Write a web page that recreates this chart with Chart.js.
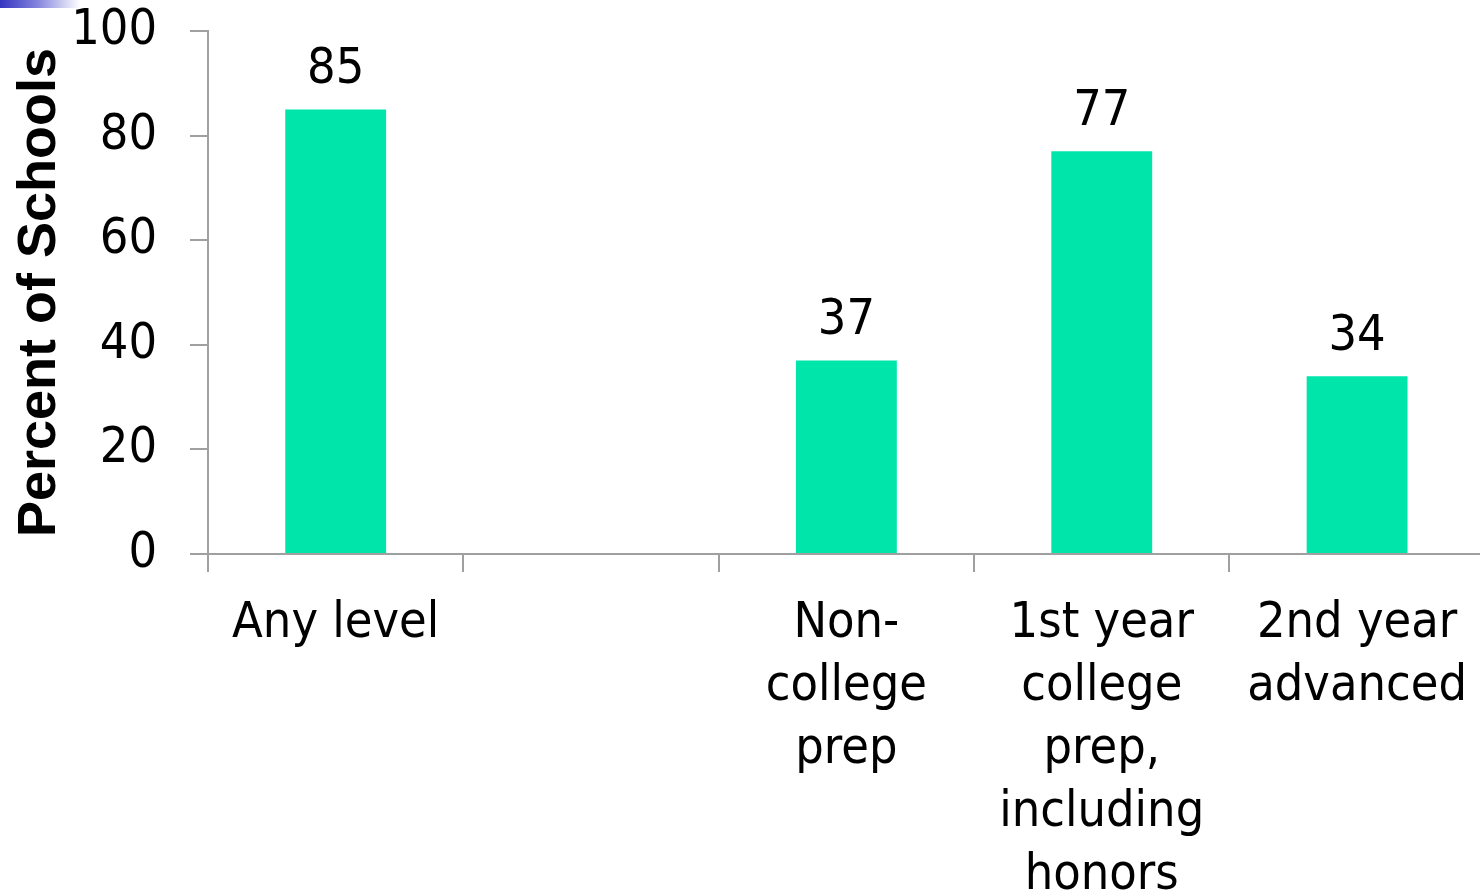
<!DOCTYPE html>
<html>
<head>
<meta charset="utf-8">
<script src="https://cdn.jsdelivr.net/npm/chart.js@4"></script>
<style>
    html, body { margin: 0; padding: 0; background: #fff; overflow: hidden; }
    #wrap { position: relative; width: 1488px; height: 896px; }
    #corner {
        position: absolute; left: 0; top: 0; width: 80px; height: 8px;
        background: linear-gradient(to right, #3535c0 0%, #8080dd 45%, #ffffff 100%);
        z-index: 2;
    }
</style>
</head>
<body>
<div id="wrap">
    <div id="corner"></div>
    <canvas id="schoolsChart"></canvas>
</div>
<script>
// categories (one empty slot between "Any level" and "Non-college prep")
const categories = [
    'Any level',
    '',
    ['Non-', 'college', 'prep'],
    ['1st year', 'college', 'prep,', 'including', 'honors'],
    ['2nd year', 'advanced']
];
const percentSchools = [85, null, 37, 77, 34];
const yTicks = [0, 20, 40, 60, 80, 100];

const labelFont = "'DejaVu Sans Condensed', 'DejaVu Sans', sans-serif";
const axisGray = '#a0a0a0';

// value labels above bars
const barValues = {
    id: 'barValues',
    afterDatasetsDraw(chart) {
        const ctx = chart.ctx;
        const meta = chart.getDatasetMeta(0);
        ctx.save();
        ctx.font = `50px ${labelFont}`;
        ctx.fillStyle = '#000';
        ctx.textAlign = 'center';
        ctx.textBaseline = 'middle';
        meta.data.forEach((bar, i) => {
            const v = chart.data.datasets[0].data[i];
            if (v === null) return;
            ctx.fillText(String(v), bar.x, bar.y - 39);
        });
        ctx.restore();
    }
};

document.addEventListener('DOMContentLoaded', function() {
    const ctx = document.getElementById('schoolsChart').getContext('2d');
    new Chart(ctx, {
        type: 'bar',
        data: {
            labels: categories,
            datasets: [{
                data: percentSchools,
                backgroundColor: '#00e6aa',
                borderWidth: 0,
                categoryPercentage: 1,
                barPercentage: 0.395
            }]
        },
        options: {
            responsive: true,
            maintainAspectRatio: false,
            animation: false,
            layout: { padding: { top: 31, right: 0, left: 0, bottom: 0 } },
            plugins: {
                legend: { display: false },
                tooltip: { enabled: false }
            },
            scales: {
                x: {
                    afterFit: (scale) => { scale.height = 342; },
                    grid: {
                        offset: true,
                        drawOnChartArea: false,
                        drawTicks: true,
                        tickLength: 18,
                        color: axisGray,
                        lineWidth: 2
                    },
                    border: { display: true, color: axisGray, width: 2 },
                    ticks: {
                        autoSkip: false,
                        maxRotation: 0,
                        minRotation: 0,
                        padding: 21,
                        color: '#000',
                        font: { family: labelFont, size: 50, lineHeight: 1.26 }
                    }
                },
                y: {
                    min: 0,
                    max: 100,
                    afterFit: (scale) => {
                        scale.width = 208;
                        scale.paddingTop = 0;
                        scale.paddingBottom = 0;
                    },
                    afterBuildTicks: (scale) => {
                        scale.ticks = yTicks.map(v => ({ value: v }));
                    },
                    grid: {
                        drawOnChartArea: false,
                        drawTicks: true,
                        tickLength: 18,
                        color: axisGray,
                        lineWidth: 2
                    },
                    border: { display: true, color: axisGray, width: 2 },
                    ticks: {
                        padding: 33,
                        color: '#000',
                        font: { family: labelFont, size: 50 }
                    },
                    title: {
                        display: true,
                        text: 'Percent of Schools',
                        color: '#000',
                        padding: { top: 8, bottom: 0 },
                        font: { family: "'Liberation Sans', Arial, sans-serif", size: 54, weight: 'bold' }
                    }
                }
            }
        },
        plugins: [barValues]
    });
});
</script>
</body>
</html>
